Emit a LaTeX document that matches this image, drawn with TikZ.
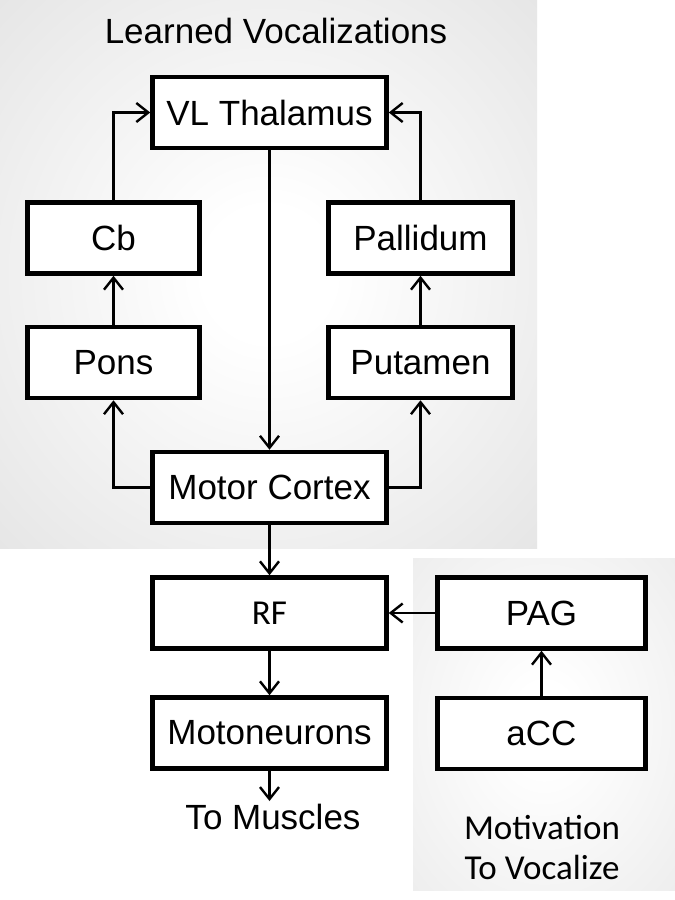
\documentclass[tikz,border=0pt]{standalone}
\usepackage{fontspec}
\setmainfont{Liberation Sans}
\newfontfamily\calfont{Carlito}
\usetikzlibrary{arrows.meta}
\colorlet{glowedgeA}{black!22}
\colorlet{glowedgeB}{black!15}
\pgfdeclareradialshading{glowA}{\pgfpoint{0bp}{0bp}}{color(0bp)=(white); color(6bp)=(white); color(72bp)=(glowedgeA)}
\pgfdeclareradialshading{glowB}{\pgfpoint{0bp}{0bp}}{color(0bp)=(white); color(6bp)=(white); color(72bp)=(glowedgeB)}
\begin{document}
\begin{tikzpicture}[x=1pt, y=-1pt,
  blk/.style={draw, line width=4.5pt, fill=white, minimum height=71pt, inner sep=0pt, font=\fontsize{35}{42}\selectfont},
  conn/.style={line width=2.4pt, -{Straight Barb[length=12pt,width=19pt]}},
  lbl/.style={font=\fontsize{35}{42}\selectfont}]
\useasboundingbox (0,0) rectangle (675,900);
\fill[white] (0,0) rectangle (675,900);
\shade[shading=glowA] (0,0) rectangle (537,548);
\shade[shading=glowB] (413,558) rectangle (675,890);

\node[lbl] (title) at (276,31) {Learned Vocalizations};
\node[blk, minimum width=234pt] (vl) at (269.5,112.5) {VL Thalamus};
\node[blk, minimum width=172pt] (cb) at (113.5,238) {Cb};
\node[blk, minimum width=184pt] (pall) at (420.5,238) {Pallidum};
\node[blk, minimum width=172pt] (pons) at (113.5,362.5) {Pons};
\node[blk, minimum width=184pt] (put) at (420.5,362.5) {Putamen};
\node[blk, minimum width=234pt] (mc) at (269.5,487.5) {Motor Cortex};
\node[blk, minimum width=234pt, font=\calfont\fontsize{35}{42}\selectfont] (rf) at (269.5,613) {RF};
\node[blk, minimum width=234pt] (mn) at (269.5,733) {Motoneurons};
\node[lbl, anchor=north] (muscles) at (273,801) {To Muscles};
\node[blk, minimum width=208pt] (pag) at (541.5,613) {PAG};
\node[blk, minimum width=208pt] (acc) at (541.5,733.5) {aCC};
\node[lbl, font=\calfont\fontsize{35}{40}\selectfont, align=center] (motiv) at (542,848) {Motivation\\To Vocalize};

\draw[conn] (vl) -- (mc);
\draw[conn] (mc.west) -| (pons.south);
\draw[conn] (pons) -- (cb);
\draw[conn] (cb.north) |- (vl.west);
\draw[conn] (mc.east) -| (put.south);
\draw[conn] (put) -- (pall);
\draw[conn] (pall.north) |- (vl.east);
\draw[conn] (mc) -- (rf);
\draw[conn] (pag) -- (rf);
\draw[conn] (acc) -- (pag);
\draw[conn] (rf) -- (mn);
\draw[conn] (mn.south) -- (mn.south |- muscles.north);
\end{tikzpicture}
\end{document}
